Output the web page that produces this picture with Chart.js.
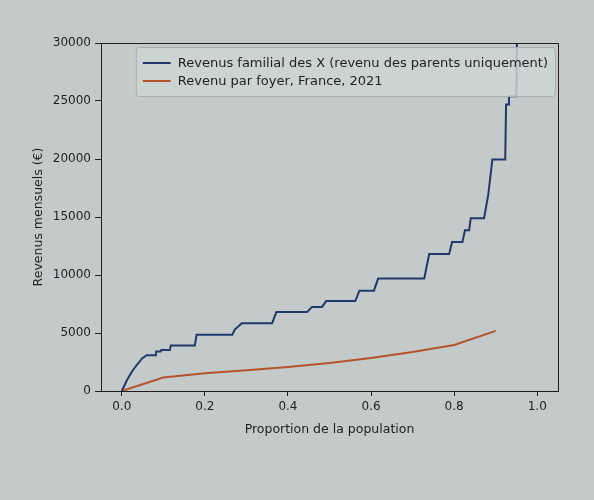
<!DOCTYPE html>
<html>
<head>
<meta charset="utf-8">
<script src="https://cdn.jsdelivr.net/npm/chart.js@4.4.1/dist/chart.umd.min.js"></script>
<style>
  html, body { margin: 0; padding: 0; background: #c3cac9; }
  #wrap { width: 594px; height: 500px; position: relative; }
</style>
</head>
<body>
<div id="wrap"><canvas id="c" width="594" height="500"></canvas></div>
<script>
// ---- data ----
const blueLabel = "Revenus familial des X (revenu des parents uniquement)";
const orangeLabel = "Revenu par foyer, France, 2021";

const blueX = [0, 0.013, 0.025, 0.037, 0.049, 0.060, 0.082, 0.083, 0.094, 0.095, 0.116, 0.118,
  0.176, 0.180, 0.266, 0.272, 0.289, 0.362, 0.372, 0.446, 0.458, 0.482, 0.492, 0.562, 0.572,
  0.607, 0.617, 0.728, 0.740, 0.788, 0.795, 0.820, 0.826, 0.836, 0.840, 0.872, 0.882, 0.892,
  0.923, 0.925, 0.930, 0.932, 0.950, 0.952];
const blueY = [0, 970, 1700, 2285, 2810, 3080, 3080, 3400, 3400, 3530, 3530, 3920,
  3920, 4850, 4850, 5300, 5850, 5850, 6800, 6800, 7250, 7250, 7750, 7750, 8650,
  8650, 9700, 9700, 11800, 11800, 12850, 12850, 13850, 13850, 14900, 14900, 16900, 19950,
  19950, 24700, 24700, 25400, 25400, 35000];

const orangeX = [0, 0.1, 0.2, 0.3, 0.4, 0.5, 0.6, 0.7, 0.8, 0.9];
const orangeY = [0, 1170, 1520, 1780, 2075, 2420, 2840, 3360, 3970, 5180];

const xTicks = [0.0, 0.2, 0.4, 0.6, 0.8, 1.0];
const yTicks = [0, 5000, 10000, 15000, 20000, 25000, 30000];

const xTitle = "Proportion de la population";
const yTitle = "Revenus mensuels (€)";

// ---- chart ----
const FONT = "'DejaVu Sans', sans-serif";
const ink = '#1f1f1f';

const framePlugin = {
  id: 'frame',
  afterDatasetsDraw(chart) {
    const a = chart.chartArea, ctx = chart.ctx;
    ctx.save();
    ctx.strokeStyle = ink;
    ctx.lineWidth = 1;
    ctx.strokeRect(Math.round(a.left) + 0.5, Math.round(a.top) + 0.5,
      Math.round(a.right - a.left), Math.round(a.bottom - a.top));
    ctx.restore();
  }
};

const legendPlugin = {
  id: 'mplLegend',
  afterDraw(chart) {
    const a = chart.chartArea, ctx = chart.ctx;
    const fs = 13;
    ctx.save();
    ctx.font = fs + "px " + FONT;
    const items = chart.data.datasets;
    let maxW = 0;
    items.forEach(d => { maxW = Math.max(maxW, ctx.measureText(d.label).width); });
    const pad = 7, handle = 28, gap = 7, rowH = 18;
    const w = pad + handle + gap + maxW + pad;
    const h = pad + rowH * items.length + pad - 1;
    const x = a.right - 3 - w, y = a.top + 4;
    ctx.beginPath();
    if (ctx.roundRect) ctx.roundRect(x + 0.5, y + 0.5, w, h, 3); else ctx.rect(x + 0.5, y + 0.5, w, h);
    ctx.fillStyle = 'rgba(206,213,212,0.82)';
    ctx.fill();
    ctx.strokeStyle = '#a7afae';
    ctx.lineWidth = 1;
    ctx.stroke();
    items.forEach((d, i) => {
      const cy = y + pad + rowH * i + rowH / 2;
      ctx.beginPath();
      ctx.moveTo(x + pad, cy);
      ctx.lineTo(x + pad + handle, cy);
      ctx.strokeStyle = d.borderColor;
      ctx.lineWidth = 2;
      ctx.stroke();
      ctx.fillStyle = ink;
      ctx.textBaseline = 'middle';
      ctx.textAlign = 'left';
      ctx.fillText(d.label, x + pad + handle + gap, cy + 0.5);
    });
    ctx.restore();
  }
};

const bgPlugin = {
  id: 'bg',
  beforeDraw(chart) {
    const ctx = chart.ctx;
    ctx.save();
    ctx.fillStyle = '#c3cac9';
    ctx.fillRect(0, 0, chart.width, chart.height);
    ctx.restore();
  }
};

new Chart(document.getElementById('c'), {
  type: 'line',
  data: {
    datasets: [
      {
        label: blueLabel,
        data: blueX.map((x, i) => ({ x: x, y: blueY[i] })),
        borderColor: '#22386a',
        borderWidth: 2,
        pointRadius: 0,
        tension: 0,
        fill: false
      },
      {
        label: orangeLabel,
        data: orangeX.map((x, i) => ({ x: x, y: orangeY[i] })),
        borderColor: '#b5532d',
        borderWidth: 2,
        pointRadius: 0,
        tension: 0,
        fill: false
      }
    ]
  },
  options: {
    responsive: false,
    animation: false,
    devicePixelRatio: 1,
    layout: { padding: { left: 24, top: 43, right: 36, bottom: 59 } },
    plugins: { legend: { display: false }, tooltip: { enabled: false } },
    scales: {
      x: {
        type: 'linear',
        min: -0.05,
        max: 1.05,
        afterBuildTicks: s => { s.ticks = xTicks.map(v => ({ value: v })); },
        afterFit: s => { s.height = 50; },
        grid: { drawOnChartArea: false, drawTicks: true, tickLength: 5, tickColor: ink, tickWidth: 1 },
        border: { display: false },
        ticks: { color: ink, font: { family: FONT, size: 12 }, padding: 4, maxRotation: 0,
          callback: v => Number(v).toFixed(1) },
        title: { display: true, text: xTitle, color: ink, font: { family: FONT, size: 12.5 },
          padding: { top: 2, bottom: 4 } }
      },
      y: {
        type: 'linear',
        min: 0,
        max: 30000,
        afterBuildTicks: s => { s.ticks = yTicks.map(v => ({ value: v })); },
        afterFit: s => { s.width = 77; },
        grid: { drawOnChartArea: false, drawTicks: true, tickLength: 6, tickColor: ink, tickWidth: 1 },
        border: { display: false },
        ticks: { color: ink, font: { family: FONT, size: 12 }, padding: 4,
          callback: v => String(v) },
        title: { display: true, text: yTitle, color: ink, font: { family: FONT, size: 12.5 },
          padding: { top: 7, bottom: 2 } }
      }
    }
  },
  plugins: [bgPlugin, framePlugin, legendPlugin]
});
</script>
</body>
</html>
